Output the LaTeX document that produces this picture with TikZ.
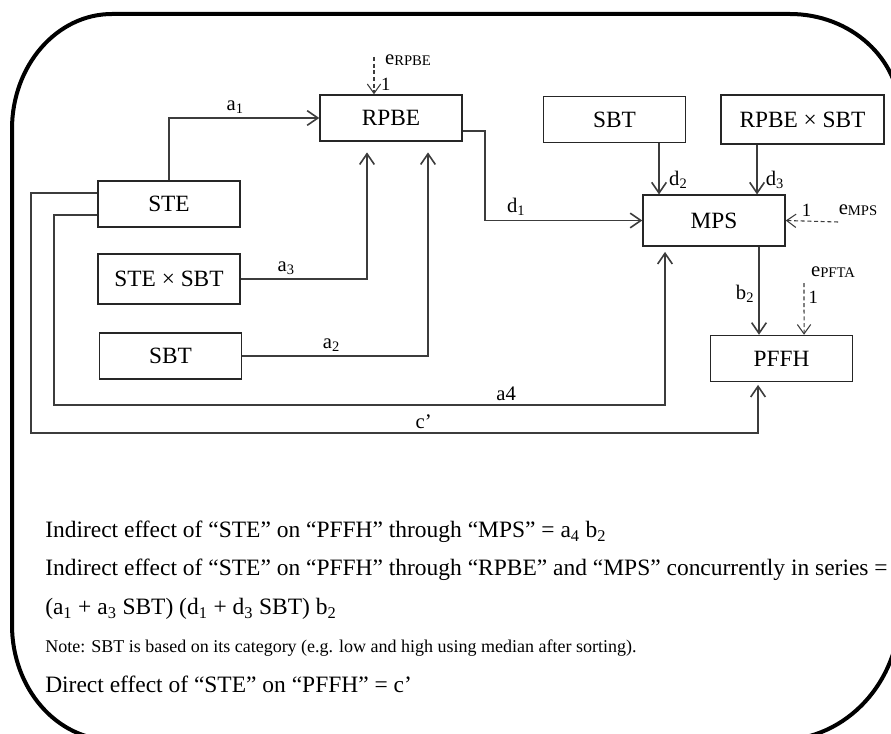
\documentclass[tikz,border=0pt]{standalone}
\usepackage{fontspec}
\setmainfont{Liberation Serif}
\usetikzlibrary{arrows.meta,positioning}
\definecolor{lineGray}{HTML}{3C3C3C}
\newcommand{\errlab}[1]{e{\fontsize{11}{12}\selectfont\raisebox{-1pt}{#1}}}

\begin{document}
\begin{tikzpicture}[
    x=0.75pt,y=-0.75pt,
    every node/.style={font=\fontsize{15.5}{17}\selectfont,inner sep=3pt},
    box/.style={draw=black!85,line width=1.1pt,minimum width=106.5pt,minimum height=34.5pt,
                inner sep=0pt,font=\fontsize{17.5}{20}\selectfont},
    arr/.style={-{Straight Barb[length=8pt,width=11pt]},line width=1.2pt,draw=lineGray},
    dasharr/.style={-{Straight Barb[length=7pt,width=10pt]},line width=0.8pt,
                    dash pattern=on 3pt off 2pt,draw=lineGray},
    frame/.style={line width=3pt,black},
    eqline/.style={anchor=west,inner sep=0pt,font=\fontsize{17.6}{20}\selectfont},
    small/.style={font=\fontsize{14}{16}\selectfont}
]
\useasboundingbox (0,0) rectangle (891,734);
\clip (0,0) rectangle (891,734);
\draw[frame] (112,14) -- (790,14) .. controls (850.8,14) and (900,58.8) .. (900,114)
    -- (900,610) .. controls (900,681.8) and (846.3,740) .. (780,740)
    -- (112,740) .. controls (56.8,740) and (12,688.5) .. (12,625)
    -- (12,129) .. controls (12,65.5) and (56.8,14) .. cycle;

\node[box] (RPBE) at (391,118) {RPBE};
\node[box] (SBTtop) at (614.5,119.5) {SBT};
\node[box,minimum width=122pt,minimum height=36.5pt] (RPBExSBT) at (802.5,119.5) {RPBE × SBT};
\node[box,minimum height=38pt] (MPS) at (714,220.5) {MPS};
\node[box] (PFFH) at (781.5,358.5) {PFFH};
\node[box] (STE) at (169,204) {STE};
\node[box,minimum height=37.5pt] (STExSBT) at (169,279) {STE × SBT};
\node[box] (SBTlow) at (170.5,356) {SBT};

\node (eRPBE) at (408,60) {\errlab{RPBE}};
\coordinate (eRPBEtail) at (374,57);
\draw[dasharr] (eRPBEtail) -- node[right,pos=0.74,small,xshift=2pt]{1} ([xshift=-12.75pt]RPBE.north);
\node (eMPS) at (858,210) {\errlab{MPS}};
\coordinate (eMPStail) at (838,222);
\draw[dasharr] (eMPStail) -- node[above,pos=0.6,small]{1} (MPS.east);
\node (ePFTA) at (833,272) {\errlab{PFTA}};
\coordinate (ePFTAtail) at (804,283);
\draw[dasharr] (ePFTAtail) -- node[right,pos=0.28,small]{1} ([xshift=16.9pt]PFFH.north);

\draw[arr] (STE.north) |- node[above,pos=0.72]{a\textsubscript{1}} (RPBE.west);
\draw[arr,shorten >=8pt] (STExSBT.east) -| node[above,pos=0.18]{a\textsubscript{3}} ([xshift=-18pt]RPBE.south);
\draw[arr,shorten >=8pt] (SBTlow.east) -| node[above,pos=0.24]{a\textsubscript{2}} ([xshift=27.75pt]RPBE.south);
\draw[arr] ([yshift=-9.75pt]RPBE.east) -- ++(22,0) |- node[above,pos=0.6]{d\textsubscript{1}} (MPS.west);
\draw[arr] ([xshift=33.4pt]SBTtop.south) -- node[right,pos=0.72,xshift=4pt]{d\textsubscript{2}} ([xshift=33.4pt]SBTtop.south |- MPS.north);
\draw[arr] ([xshift=-34.1pt]RPBExSBT.south) -- node[right,pos=0.7,xshift=3pt]{d\textsubscript{3}} ([xshift=-34.1pt]RPBExSBT.south |- MPS.north);
\draw[arr] ([xshift=33.75pt]MPS.south) -- node[left,pos=0.54]{b\textsubscript{2}} ([xshift=33.75pt]MPS.south |- PFFH.north);
\draw[arr,shorten >=4pt] ([yshift=-8.25pt]STE.west) -- ++(-43,0) -- ++(0,190)
    -| node[above,pos=0.37]{a4} ([xshift=-36.75pt]MPS.south);
\draw[arr,shorten >=2pt] ([yshift=8.25pt]STE.west) -- ++(-66,0) -- ++(0,240)
    -| node[above,pos=0.27]{c’} ([xshift=-17.6pt]PFFH.south);

\node[eqline] (eq1) at (45,532) {Indirect effect of “STE” on “PFFH” through “MPS” = a\textsubscript{4} b\textsubscript{2}};
\node[eqline] (eq2) at (45,570) {Indirect effect of “STE” on “PFFH” through “RPBE” and “MPS” concurrently in series =};
\node[eqline] (eq3) at (45,609) {(a\textsubscript{1} + a\textsubscript{3} SBT) (d\textsubscript{1} + d\textsubscript{3} SBT) b\textsubscript{2}};
\node[eqline,font=\fontsize{13.5}{15}\selectfont] (note) at (45,648) {Note: SBT is based on its category (e.g. low and high using median after sorting).};
\node[eqline] (eq4) at (45,684) {Direct effect of “STE” on “PFFH” = c’};
\end{tikzpicture}
\end{document}
